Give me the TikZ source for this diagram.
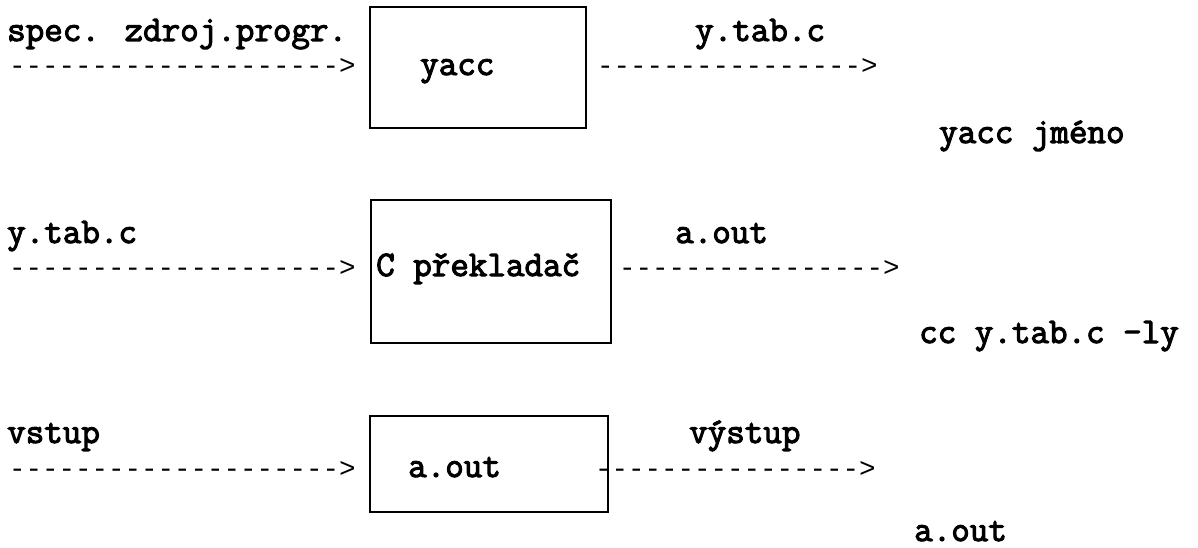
\documentclass[tikz,border=0pt]{standalone}
\usepackage{fontspec}
\newfontfamily\lblfont{Latin Modern Mono}[FakeBold=3]
\newfontfamily\arrfont{Liberation Mono}
\usepackage{tikz}
\newcommand{\txtarrow}[1]{\foreach\k in {1,...,#1}{-}>}

\begin{document}
\begin{tikzpicture}[x=1pt,y=-1pt,
  lbl/.style={anchor=base west,inner sep=0pt,font=\lblfont\fontsize{36}{40}\selectfont},
  arr/.style={anchor=base west,inner sep=0pt,font=\arrfont\fontsize{27.5}{30}\selectfont},
  procbox/.style={draw,line width=2.2pt,inner sep=0pt}]
\useasboundingbox (0,0) rectangle (1198,548);
% yacc
\node[procbox,minimum width=216pt,minimum height=121pt] (yaccbox) at (478,67.5) {};
\node[lbl] (specin) at (7,41) {spec. zdroj.progr.};
\node[arr] (yaccin) at (9,75) {\txtarrow{20}};
\node[lbl] (yacctxt) at (420,75) {yacc};
\node[lbl] (ytabout) at (695,41) {y.tab.c};
\node[arr] (yaccout) at (597,75) {\txtarrow{16}};
\node[lbl] (yacccmd) at (939,143) {yacc jméno};
% C prekladac
\node[procbox,minimum width=240pt,minimum height=143pt] (ccbox) at (491,271.5) {};
\node[lbl] (ytabin) at (7,243) {y.tab.c};
\node[arr] (ccin) at (9,276) {\txtarrow{20}};
\node[lbl] (cctxt) at (376,276) {C překladač};
\node[lbl] (aoutout) at (675,243) {a.out};
\node[arr] (ccout) at (619,276) {\txtarrow{16}};
\node[lbl] (cccmd) at (919,343) {cc y.tab.c -ly};
% a.out
\node[procbox,minimum width=238pt,minimum height=96pt] (runbox) at (489,464) {};
\node[lbl] (vstup) at (7,443) {vstup};
\node[arr] (runin) at (9,477) {\txtarrow{20}};
\node[lbl] (runtxt) at (408,477) {a.out};
\node[lbl] (vystup) at (689,443) {výstup};
\node[arr] (runout) at (595,477) {\txtarrow{16}};
\node[lbl] (runcmd) at (914,541) {a.out};
\end{tikzpicture}
\end{document}
